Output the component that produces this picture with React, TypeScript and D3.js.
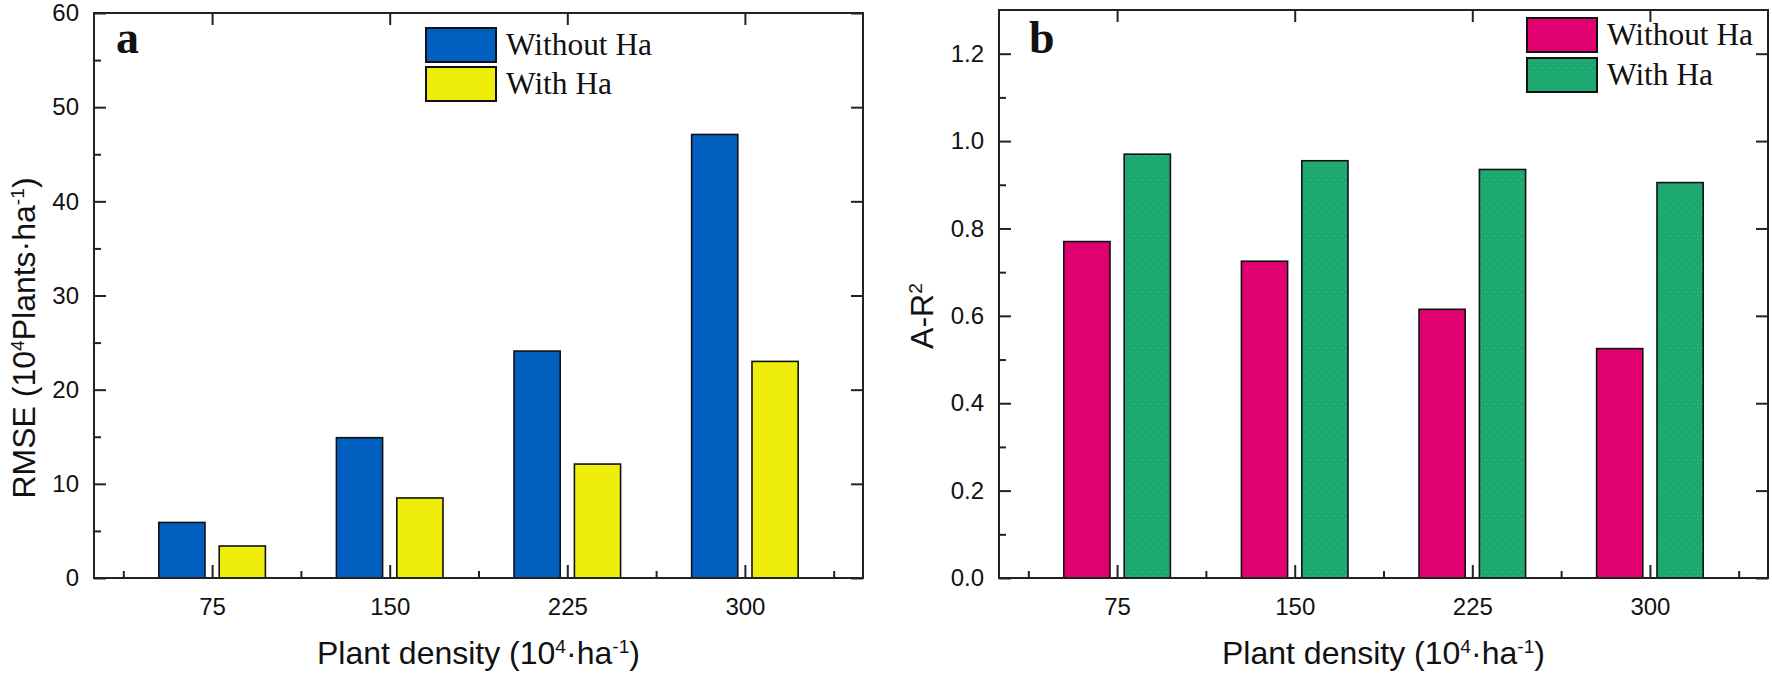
import { useEffect, useRef } from "react";
import * as d3 from "d3";

// categories (plant density)
const densities = ["75", "150", "225", "300"];

// panel a: RMSE
const rmseWithout = [5.9, 14.9, 24.1, 47.1];
const rmseWith = [3.4, 8.5, 12.1, 23.0];
const rmseTicks = [0, 10, 20, 30, 40, 50, 60];

// panel b: A-R2
const r2Without = [0.77, 0.725, 0.615, 0.525];
const r2With = [0.97, 0.955, 0.935, 0.905];
const r2Ticks = [0, 0.2, 0.4, 0.6, 0.8, 1.0, 1.2];

const legendLabels = ["Without Ha", "With Ha"];

const W = 1772;
const H = 677;
const SANS = "'Liberation Sans', Arial, sans-serif";
const SERIF = "'Liberation Serif', 'Times New Roman', serif";

type Piece = { t: string; sup?: boolean };

function richText(
  sel: d3.Selection<SVGTextElement, unknown, null, undefined>,
  pieces: Piece[]
) {
  pieces.forEach((p, i) => {
    const prevSup = i > 0 && pieces[i - 1].sup;
    const ts = sel.append("tspan").text(p.t);
    if (p.sup) ts.attr("dy", "-0.55em").attr("font-size", "0.6em");
    else if (prevSup) ts.attr("dy", "0.33em");
  });
}

interface PanelCfg {
  left: number;
  right: number;
  top: number;
  bottom: number;
  yMax: number;
  ticks: number[];
  minor: number[];
  fmt: (d: number) => string;
  series: number[][];
  colors: string[];
  legendX: number;
  legendY: number;
  legendGap: number;
  letter: string;
  letterX: number;
  yTitle: Piece[];
  yTitleX: number;
  yTitleY: number;
}

export default function App() {
  const svgRef = useRef<SVGSVGElement>(null);

  useEffect(() => {
    const svg = d3.select(svgRef.current);
    svg.selectAll("*").remove();

    const defs = svg.append("defs");
    const pat = defs
      .append("pattern")
      .attr("id", "dots")
      .attr("patternUnits", "userSpaceOnUse")
      .attr("width", 8)
      .attr("height", 7);
    pat.append("rect").attr("width", 8).attr("height", 7).attr("fill", "#1ca970");
    pat.append("circle").attr("cx", 1.5).attr("cy", 1.5).attr("r", 0.5).attr("fill", "#9fb4e4").attr("opacity", 0.7);
    pat.append("circle").attr("cx", 5.5).attr("cy", 5).attr("r", 0.5).attr("fill", "#9fb4e4").attr("opacity", 0.7);

    const draw = (c: PanelCfg) => {
      const g = svg.append("g");
      const x = d3.scaleLinear().domain([0.335, 4.665]).range([c.left, c.right]);
      const y = d3.scaleLinear().domain([0, c.yMax]).range([c.bottom, c.top]);
      const idx = densities.map((_, i) => i + 1);

      const styleAxis = (a: d3.Selection<SVGGElement, unknown, null, undefined>) => {
        a.select(".domain").remove();
        a.selectAll("line").attr("stroke", "#222").attr("stroke-width", 2);
        a.selectAll("text")
          .attr("font-family", SANS)
          .attr("font-size", 24)
          .attr("fill", "#111");
      };

      // bars
      const offs = [-0.17, 0.17];
      const bw = 0.26;
      c.series.forEach((vals, s) => {
        g.append("g")
          .selectAll("rect")
          .data(vals)
          .join("rect")
          .attr("x", (_, i) => x(idx[i] + offs[s] - bw / 2))
          .attr("width", (_, i) => x(idx[i] + offs[s] + bw / 2) - x(idx[i] + offs[s] - bw / 2))
          .attr("y", (d) => y(d))
          .attr("height", (d) => y(0) - y(d))
          .attr("fill", c.colors[s])
          .attr("stroke", "#111")
          .attr("stroke-width", 1.6);
      });

      // axes
      g.append("g")
        .attr("transform", `translate(0,${c.bottom})`)
        .call(
          d3.axisBottom(x)
            .tickValues(idx)
            .tickFormat((d) => densities[(d as number) - 1])
            .tickSize(-13)
            .tickPadding(20)
        )
        .call(styleAxis);
      g.append("g")
        .attr("transform", `translate(0,${c.bottom})`)
        .call(d3.axisBottom(x).tickValues([0.5, 1.5, 2.5, 3.5, 4.5]).tickSize(-7).tickFormat(() => ""))
        .call(styleAxis);
      g.append("g")
        .attr("transform", `translate(0,${c.top})`)
        .call(d3.axisTop(x).tickValues(idx).tickSize(-12).tickFormat(() => ""))
        .call(styleAxis);
      g.append("g")
        .attr("transform", `translate(${c.left},0)`)
        .call(d3.axisLeft(y).tickValues(c.ticks).tickSize(-12).tickPadding(15).tickFormat((d) => c.fmt(d as number)))
        .call(styleAxis);
      g.append("g")
        .attr("transform", `translate(${c.left},0)`)
        .call(d3.axisLeft(y).tickValues(c.minor).tickSize(-7).tickFormat(() => ""))
        .call(styleAxis);
      g.append("g")
        .attr("transform", `translate(${c.right},0)`)
        .call(d3.axisRight(y).tickValues(c.ticks).tickSize(-12).tickFormat(() => ""))
        .call(styleAxis);

      g.append("rect")
        .attr("x", c.left)
        .attr("y", c.top)
        .attr("width", c.right - c.left)
        .attr("height", c.bottom - c.top)
        .attr("fill", "none")
        .attr("stroke", "#222")
        .attr("stroke-width", 2);

      // legend
      const textLen = [146, 106];
      legendLabels.forEach((lab, s) => {
        const ly = c.legendY + s * c.legendGap;
        g.append("rect")
          .attr("x", c.legendX)
          .attr("y", ly)
          .attr("width", 70)
          .attr("height", 34)
          .attr("fill", c.colors[s])
          .attr("stroke", "#111")
          .attr("stroke-width", 2);
        g.append("text")
          .attr("x", c.legendX + 80)
          .attr("y", ly + 27)
          .attr("font-family", SERIF)
          .attr("font-size", 31)
          .attr("textLength", textLen[s])
          .attr("lengthAdjust", "spacingAndGlyphs")
          .attr("fill", "#111")
          .text(lab);
      });

      // panel letter
      g.append("text")
        .attr("x", c.letterX)
        .attr("y", 53)
        .attr("font-family", SERIF)
        .attr("font-weight", "bold")
        .attr("font-size", 46)
        .attr("fill", "#111")
        .text(c.letter);

      // titles
      const xt = g
        .append("text")
        .attr("x", (c.left + c.right) / 2)
        .attr("y", 664)
        .attr("text-anchor", "middle")
        .attr("font-family", SANS)
        .attr("font-size", 32)
        .attr("fill", "#111");
      richText(xt, [
        { t: "Plant density (10" },
        { t: "4", sup: true },
        { t: "·ha" },
        { t: "-1", sup: true },
        { t: ")" },
      ]);

      const yt = g
        .append("text")
        .attr("transform", `translate(${c.yTitleX},${c.yTitleY}) rotate(-90)`)
        .attr("text-anchor", "middle")
        .attr("font-family", SANS)
        .attr("font-size", 32)
        .attr("fill", "#111");
      richText(yt, c.yTitle);
    };

    draw({
      left: 94,
      right: 863,
      top: 13,
      bottom: 578,
      yMax: 60,
      ticks: rmseTicks,
      minor: d3.range(5, 60, 10),
      fmt: (d) => String(d),
      series: [rmseWithout, rmseWith],
      colors: ["#005fbf", "#eeee0a"],
      legendX: 426,
      legendY: 28,
      legendGap: 39,
      letter: "a",
      letterX: 116,
      yTitle: [
        { t: "RMSE (10" },
        { t: "4", sup: true },
        { t: "Plants·ha" },
        { t: "-1", sup: true },
        { t: ")" },
      ],
      yTitleX: 35,
      yTitleY: 338,
    });

    draw({
      left: 999,
      right: 1768,
      top: 10,
      bottom: 578,
      yMax: 1.3,
      ticks: r2Ticks,
      minor: d3.range(0.1, 1.3, 0.2),
      fmt: d3.format(".1f"),
      series: [r2Without, r2With],
      colors: ["#e0006f", "url(#dots)"],
      legendX: 1527,
      legendY: 18,
      legendGap: 40,
      letter: "b",
      letterX: 1029,
      yTitle: [{ t: "A-R" }, { t: "2", sup: true }],
      yTitleX: 933,
      yTitleY: 316,
    });
  }, []);

  return (
    <svg
      ref={svgRef}
      width={W}
      height={H}
      style={{ position: "absolute", left: 0, top: 0, background: "#fff" }}
    />
  );
}
